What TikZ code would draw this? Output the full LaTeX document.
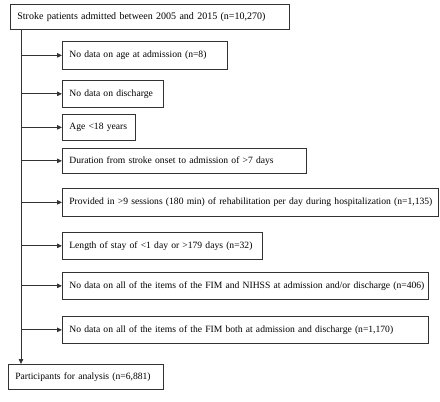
\documentclass[tikz,border=0pt]{standalone}
\usepackage{fontspec}
\setmainfont{Liberation Serif}
\usetikzlibrary{arrows.meta,positioning,calc}

\begin{document}
\begin{tikzpicture}[
    x=1pt, y=-1pt,
    box/.style={rectangle, draw=black!80, line width=0.7pt, anchor=north west, inner xsep=7pt, inner ysep=0pt, minimum height=27pt, font=\fontsize{9.6}{12}\selectfont, align=left},
    arr/.style={draw=black!80, line width=0.8pt, -{Triangle[length=5pt,width=4.5pt]}},
]
    \useasboundingbox (0,0) rectangle (440,402);
    \node[box, text width=265pt, minimum height=25pt, font=\fontsize{10}{12}\selectfont] (top) at (10,4) {\mbox{Stroke patients admitted between 2005 and 2015 (n=10,270)}};
    \node[box, text width=151pt, minimum height=28pt] (ex1) at (62,41) {\mbox{No data on age at admission (n=8)}};
    \node[box, text width=87pt] (ex2) at (62,80) {\makebox[86pt][s]{No data on discharge}};
    \node[box, text width=59pt, minimum height=26pt] (ex3) at (62,114) {\mbox{Age <18 years}};
    \node[box, text width=230pt, minimum height=25pt] (ex4) at (62,148) {\makebox[228pt][s]{Duration from stroke onset to admission of >7 days}};
    \node[box, text width=362pt, minimum height=28pt] (ex5) at (62,188) {\mbox{Provided in >9 sessions (180 min) of rehabilitation per day during hospitalization (n=1,135)}};
    \node[box, text width=186pt] (ex6) at (62,232) {\mbox{Length of stay of <1 day or >179 days (n=32)}};
    \node[box, text width=352pt] (ex7) at (62,272) {\mbox{No data on all of the items of the FIM and NIHSS at admission and/or discharge (n=406)}};
    \node[box, text width=352pt] (ex8) at (62,316) {\mbox{No data on all of the items of the FIM both at admission and discharge (n=1,170)}};
    \node[box, text width=141pt, minimum height=25pt] (final) at (8,364) {\mbox{Participants for analysis (n=6,881)}};

    % main flow
    \coordinate (spine) at (21,0);
    \draw[arr] (top.south -| spine) -- (final.north -| spine);
    \foreach \n in {ex1,ex2,ex3,ex4,ex5,ex6,ex7,ex8}
        \draw[arr] (\n.west -| spine) -- (\n.west);
\end{tikzpicture}
\end{document}
